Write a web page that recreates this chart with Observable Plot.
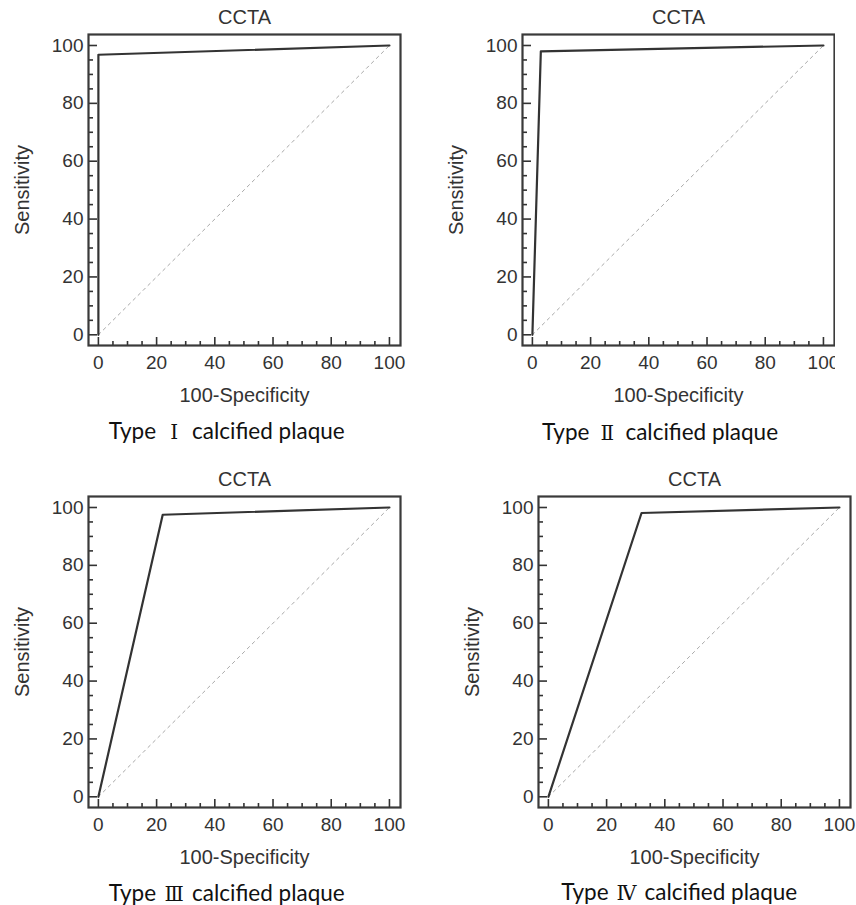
<!DOCTYPE html>
<html>
<head>
<meta charset="utf-8">
<script src="https://cdn.jsdelivr.net/npm/d3@7"></script>
<script src="https://cdn.jsdelivr.net/npm/@observablehq/plot@0.6"></script>
<style>
  html, body { margin: 0; padding: 0; background: #fff; }
  #page { position: relative; width: 856px; height: 905px; overflow: hidden; background: #fff; }
  .panel { position: absolute; overflow: hidden; }
  .panel svg { max-width: none !important; }
  .caption { position: absolute; transform: translate(-50%, -50%); white-space: nowrap; line-height: 1.3;
             font-family: Lato, "Noto Sans CJK SC", sans-serif; font-size: 22.5px; color: #111; padding: 2px 4px; }
  .caption .num { display: inline-block; width: 36px; text-align: center;
                  font-family: "DejaVu Serif", "Liberation Serif", serif; font-size: 20px; }
</style>
</head>
<body>
<div id="page"></div>
<script>
// ---- data ----
const panelTitles = ["CCTA", "CCTA", "CCTA", "CCTA"];
const panelNumerals = ["Ⅰ", "Ⅱ", "Ⅲ", "Ⅳ"];
const captionText = "calcified plaque";
const xLabel = "100-Specificity";
const yLabel = "Sensitivity";

const fpr1 = [0, 0, 100];     const sens1 = [0, 96.8, 100];
const fpr2 = [0, 2.9, 100];   const sens2 = [0, 98.0, 100];
const fpr3 = [0, 22.1, 100];  const sens3 = [0, 97.5, 100];
const fpr4 = [0, 32.0, 100];  const sens4 = [0, 98.1, 100];

const chanceX = [0, 100];
const chanceY = [0, 100];

const majorTicks = [0, 20, 40, 60, 80, 100];
const minorTicks = [5, 10, 15, 25, 30, 35, 45, 50, 55, 65, 70, 75, 85, 90, 95];

// ---- layout ----
const W = 428, H = 415;
const mL = 88, mR = 28, mT = 34, mB = 70;
const innerW = W - mL - mR, innerH = H - mT - mB;

const panels = [
  {fpr: fpr1, sens: sens1, left: 0,     top: 0,     clipW: W,   cap: [226.7, 431]},
  {fpr: fpr2, sens: sens2, left: 434,   top: 0,     clipW: 401, cap: [660, 432]},
  {fpr: fpr3, sens: sens3, left: 0,     top: 461.7, clipW: W,   cap: [226.7, 892.7]},
  {fpr: fpr4, sens: sens4, left: 449.7, top: 461.7, clipW: 406.3, cap: [679.2, 891.7]}
];

const page = document.getElementById("page");

panels.forEach((p, i) => {
  const rows = p.fpr.map((x, j) => ({x, y: p.sens[j]}));
  const chance = chanceX.map((x, j) => ({x, y: chanceY[j]}));
  const chart = Plot.plot({
    width: W, height: H,
    marginLeft: mL, marginRight: mR, marginTop: mT, marginBottom: mB,
    style: {fontFamily: "'Liberation Sans', Arial, sans-serif", fontSize: "19px", color: "#333", background: "#fff", maxWidth: "none"},
    x: {domain: [-3.4, 103.8], axis: null},
    y: {domain: [-3.7, 103.8], axis: null},
    marks: [
      Plot.line(chance, {x: "x", y: "y", stroke: "#a8a8a8", strokeWidth: 1, strokeDasharray: "3,4"}),
      Plot.line(rows, {x: "x", y: "y", stroke: "#333", strokeWidth: 2.2}),
      Plot.ruleX(majorTicks, {x: d => d, insetTop: innerH - 8, stroke: "#333", strokeWidth: 1.6}),
      Plot.ruleX(minorTicks, {x: d => d, insetTop: innerH - 4, stroke: "#333", strokeWidth: 1.6}),
      Plot.ruleY(majorTicks, {y: d => d, insetRight: innerW - 9, stroke: "#333", strokeWidth: 1.6}),
      Plot.ruleY(minorTicks, {y: d => d, insetRight: innerW - 5, stroke: "#333", strokeWidth: 1.6}),
      Plot.axisX(majorTicks, {tickSize: 0, tickPadding: 10, fontSize: 19, fill: "#333", label: null}),
      Plot.axisY(majorTicks, {tickSize: 0, tickPadding: 5, fontSize: 19, fill: "#333", label: null}),
      Plot.frame({stroke: "#3a3a3a", strokeWidth: 2.2}),
      Plot.text([panelTitles[i]], {text: d => d, frameAnchor: "top", lineAnchor: "middle", dy: -17, fontSize: 20, fill: "#333"}),
      Plot.text([xLabel], {text: d => d, frameAnchor: "bottom", lineAnchor: "middle", dy: 50, fontSize: 20, fill: "#333"}),
      Plot.text([yLabel], {text: d => d, frameAnchor: "left", textAnchor: "middle", lineAnchor: "middle", dx: -66, rotate: -90, fontSize: 20, fill: "#333"})
    ]
  });
  chart.style.maxWidth = "none";
  const wrap = document.createElement("div");
  wrap.className = "panel";
  wrap.style.left = p.left + "px";
  wrap.style.top = p.top + "px";
  wrap.style.width = p.clipW + "px";
  wrap.style.height = H + "px";
  wrap.appendChild(chart);
  page.appendChild(wrap);

  const cap = document.createElement("div");
  cap.className = "caption";
  cap.style.left = p.cap[0] + "px";
  cap.style.top = p.cap[1] + "px";
  cap.innerHTML = "Type<span class='num'>" + panelNumerals[i] + "</span>" + captionText;
  page.appendChild(cap);
});
</script>
</body>
</html>
